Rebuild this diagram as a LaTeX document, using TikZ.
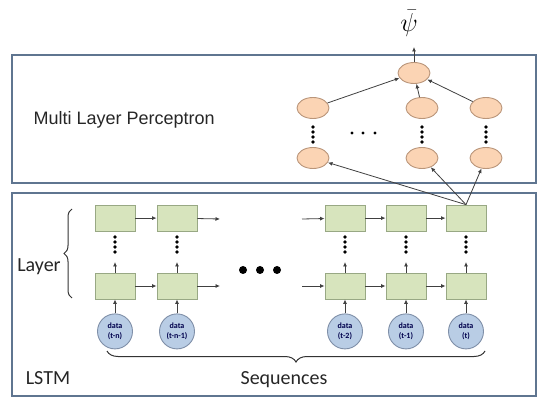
\documentclass[tikz,border=0pt]{standalone}
\usepackage{fix-cm}
\usepackage{fontspec}
\setmainfont{Carlito}
\newfontfamily\arialfont{Liberation Sans}
\usepackage{tikz}
\usetikzlibrary{positioning,arrows.meta,shapes.geometric,decorations.pathreplacing}
\definecolor{panelc}{HTML}{5F7590}
\definecolor{peach}{HTML}{FBD4B4}
\definecolor{peachb}{HTML}{B9957A}
\definecolor{cellc}{HTML}{D7E4BD}
\definecolor{cellb}{HTML}{98A884}
\definecolor{datac}{HTML}{B9CDE5}
\definecolor{datab}{HTML}{7F8FA8}
\definecolor{arrc}{HTML}{404040}
\tikzset{
  line/.style={-{Latex[length=4.5pt,width=4pt]}, line width=0.8pt, draw=arrc},
  panel/.style={draw=panelc, line width=1.6pt},
  neuron/.style={ellipse, draw=peachb, fill=peach, line width=0.9pt, minimum width=32pt, minimum height=21pt, inner sep=0pt},
  cell/.style={draw=cellb, fill=cellc, line width=0.9pt, minimum width=40pt, minimum height=26pt, inner sep=0pt},
  datanode/.style={circle, draw=datab, fill=datac, line width=0.9pt, minimum size=35pt, inner sep=0pt, align=center, font=\fontsize{8}{8.5}\selectfont\bfseries, text=black!70!blue},
  brace/.style={decorate, decoration={brace, amplitude=#1}, line width=1pt, draw=black!80},
  lbl/.style={font=\fontsize{20}{22}\selectfont, text=black!85}
}

\begin{document}
\begin{tikzpicture}[x=1pt, y=-1pt]
  \useasboundingbox (0,0) rectangle (541,398);
  % panels
  \draw[panel] (12,55) rectangle (536,183);
  \draw[panel] (12,193) rectangle (536,396);
  \node[anchor=west, font=\arialfont\fontsize{18}{20}\selectfont, text=black!85] (mlp) at (30,120) {Multi Layer Perceptron};

  % perceptron
  \node[neuron] (o) at (414,73) {};
  \node[font=\fontsize{26}{28}\selectfont, inner sep=1pt] (psi) at (409,23) {$\bar{\psi}$};
  \coordinate (out) at (414,47);
  \draw[line] (o) -- (out);
  \foreach \c/\x in {1/313,2/422,3/486} {
    \node[neuron] (m\c) at (\x,108) {};
    \node[neuron] (l\c) at (\x,158) {};
    \foreach \k in {0,...,3} \fill (\x,127+5*\k) circle (1.9pt);
    \draw[line] (m\c) -- (o);
  }
  \foreach \x in {352,363,375} \fill (\x,133) circle (1.6pt);

  % lstm cells
  \foreach \c/\x/\lab in {1/115/{(t-n)},2/177/{(t-n-1)},3/345/{(t-2)},4/406/{(t-1)},5/466/{(t)}} {
    \node[cell] (b\c) at (\x,286) {};
    \node[cell, above=41pt of b\c] (t\c) {};
    \node[datanode, below=14pt of b\c] (d\c) {data\\[1pt]\lab};
    \coordinate (u\c) at (\x,262);
    \draw[line] (d\c) -- (b\c);
    \draw[line] (b\c) -- (u\c);
    \foreach \k in {0,...,3} \fill (\x,237+5*\k) circle (1.9pt);
  }
  \coordinate (tr) at (220,219);
  \coordinate (br) at (220,286);
  \coordinate (tl) at (302,219);
  \coordinate (bl) at (302,286);
  \draw[line] (t1) -- (t2);
  \draw[line] (b1) -- (b2);
  \draw[line] (t2) -- (tr);
  \draw[line] (b2) -- (br);
  \draw[line] (tl) -- (t3);
  \draw[line] (bl) -- (b3);
  \draw[line] (t3) -- (t4);
  \draw[line] (b3) -- (b4);
  \draw[line] (t4) -- (t5);
  \draw[line] (b4) -- (b5);
  \foreach \x in {243,260,277} \fill (\x,270) circle (4pt);

  % lstm to perceptron
  \foreach \c in {1,2,3} \draw[line] (t5.north) -- (l\c);

  % braces and labels
  \draw[brace=8pt] (72,298) -- (72,209);
  \node[lbl] (layer) at (39,267) {Layer};
  \draw[brace=11pt] (485,351) -- (107,351);
  \node[lbl] (seq) at (284,380) {Sequences};
  \node[lbl] (lstm) at (48,378) {LSTM};
\end{tikzpicture}
\end{document}
